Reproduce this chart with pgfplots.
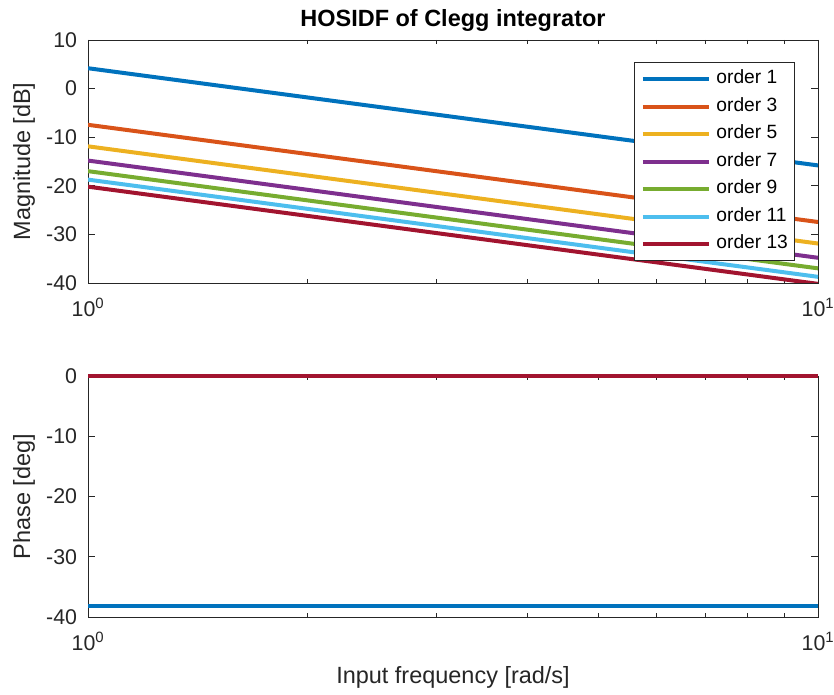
\documentclass[border=0pt]{standalone}
\usepackage{fontspec}
\setmainfont{Liberation Sans}
\usepackage{pgfplots}
\pgfplotsset{compat=1.18}
\definecolor{c1}{rgb}{0,0.447,0.741}
\definecolor{c2}{rgb}{0.85,0.325,0.098}
\definecolor{c3}{rgb}{0.929,0.694,0.125}
\definecolor{c4}{rgb}{0.494,0.184,0.556}
\definecolor{c5}{rgb}{0.466,0.674,0.188}
\definecolor{c6}{rgb}{0.301,0.745,0.933}
\definecolor{c7}{rgb}{0.635,0.078,0.184}
\definecolor{ax}{rgb}{0.15,0.15,0.15}
\newcommand{\fs}{\fontsize{16}{19}\selectfont}
\newcommand{\fl}{\fontsize{17.6}{21}\selectfont}
\newcommand{\fleg}{\fontsize{14.4}{17}\selectfont}
\begin{document}
\begin{tikzpicture}
\path[use as bounding box] (0,0) rectangle (625.5pt,521.25pt);
\begin{axis}[
  scale only axis,
  width=547.5pt,
  xmode=log, xmin=1, xmax=10,
  xtick={1,10},
  xticklabels={10\textsuperscript{0},10\textsuperscript{1}},
  axis line style={ax, line width=0.6pt},
  every tick/.style={ax, line width=0.6pt},
  major tick length=5.5pt,
  minor tick length=3pt,
  tick align=inside,
  tick label style={font=\fs, text=ax},
  xticklabel style={anchor=base, yshift=-25.5pt, inner sep=0pt},
  yticklabel style={anchor=east, inner sep=0pt, xshift=-8pt},
  label style={font=\fl, text=ax},
  ylabel style={at={(axis description cs:-0.0877,0.5)}, anchor=center},
  at={(66pt,309pt)}, anchor=south west,
  height=182.25pt,
  ymin=-40, ymax=10,
  ytick={-40,-30,-20,-10,0,10},
  yticklabels={-40,-30,-20,-10,0,10},
  ylabel={Magnitude [dB]},
  title={HOSIDF of Clegg integrator},
  every axis title shift=0pt,
  title style={font=\fl\bfseries, text=black, at={(axis description cs:0.5,1.0535)}, anchor=base, inner sep=0pt},
  legend style={at={(rel axis cs:0.9685,0.909)}, anchor=north east,
    draw=ax, line width=0.6pt, font=\fleg, text=black,
    inner xsep=5pt, inner ysep=5.5pt, row sep=6.6pt, column sep=3.75pt,
    nodes={inner sep=0pt, text height=10.5pt, text depth=3.5pt}},
  legend cell align=left,
  legend image code/.code={\draw[#1, line width=3pt] (0pt,0pt) -- (50pt,0pt);},
]
\addplot[c1, line width=3pt] coordinates {(1,4.19) (10,-15.81)};
\addlegendentry{order 1}
\addplot[c2, line width=3pt] coordinates {(1,-7.45) (10,-27.45)};
\addlegendentry{order 3}
\addplot[c3, line width=3pt] coordinates {(1,-11.88) (10,-31.88)};
\addlegendentry{order 5}
\addplot[c4, line width=3pt] coordinates {(1,-14.81) (10,-34.81)};
\addlegendentry{order 7}
\addplot[c5, line width=3pt] coordinates {(1,-16.99) (10,-36.99)};
\addlegendentry{order 9}
\addplot[c6, line width=3pt] coordinates {(1,-18.73) (10,-38.73)};
\addlegendentry{order 11}
\addplot[c7, line width=3pt] coordinates {(1,-20.18) (10,-40.18)};
\addlegendentry{order 13}
\end{axis}
\begin{axis}[
  scale only axis,
  width=547.5pt,
  xmode=log, xmin=1, xmax=10,
  xtick={1,10},
  xticklabels={10\textsuperscript{0},10\textsuperscript{1}},
  axis line style={ax, line width=0.6pt},
  every tick/.style={ax, line width=0.6pt},
  major tick length=5.5pt,
  minor tick length=3pt,
  tick align=inside,
  tick label style={font=\fs, text=ax},
  xticklabel style={anchor=base, yshift=-25.5pt, inner sep=0pt},
  yticklabel style={anchor=east, inner sep=0pt, xshift=-8pt},
  label style={font=\fl, text=ax},
  ylabel style={at={(axis description cs:-0.0877,0.5)}, anchor=center},
  at={(66pt,58.5pt)}, anchor=south west,
  height=180.75pt,
  ymin=-40, ymax=0,
  ytick={-40,-30,-20,-10,0},
  yticklabels={-40,-30,-20,-10,0},
  ylabel={Phase [deg]},
  xlabel={Input frequency [rad/s]},
  xlabel style={at={(axis description cs:0.5,-0.278)}, anchor=base, inner sep=0pt},
  clip=false,
]
\addplot[c1, line width=3pt] coordinates {(1,-38.15) (10,-38.15)};
\addplot[c2, line width=3pt] coordinates {(1,0) (10,0)};
\addplot[c3, line width=3pt] coordinates {(1,0) (10,0)};
\addplot[c4, line width=3pt] coordinates {(1,0) (10,0)};
\addplot[c5, line width=3pt] coordinates {(1,0) (10,0)};
\addplot[c6, line width=3pt] coordinates {(1,0) (10,0)};
\addplot[c7, line width=3pt] coordinates {(1,0) (10,0)};
\end{axis}
\end{tikzpicture}
\end{document}
